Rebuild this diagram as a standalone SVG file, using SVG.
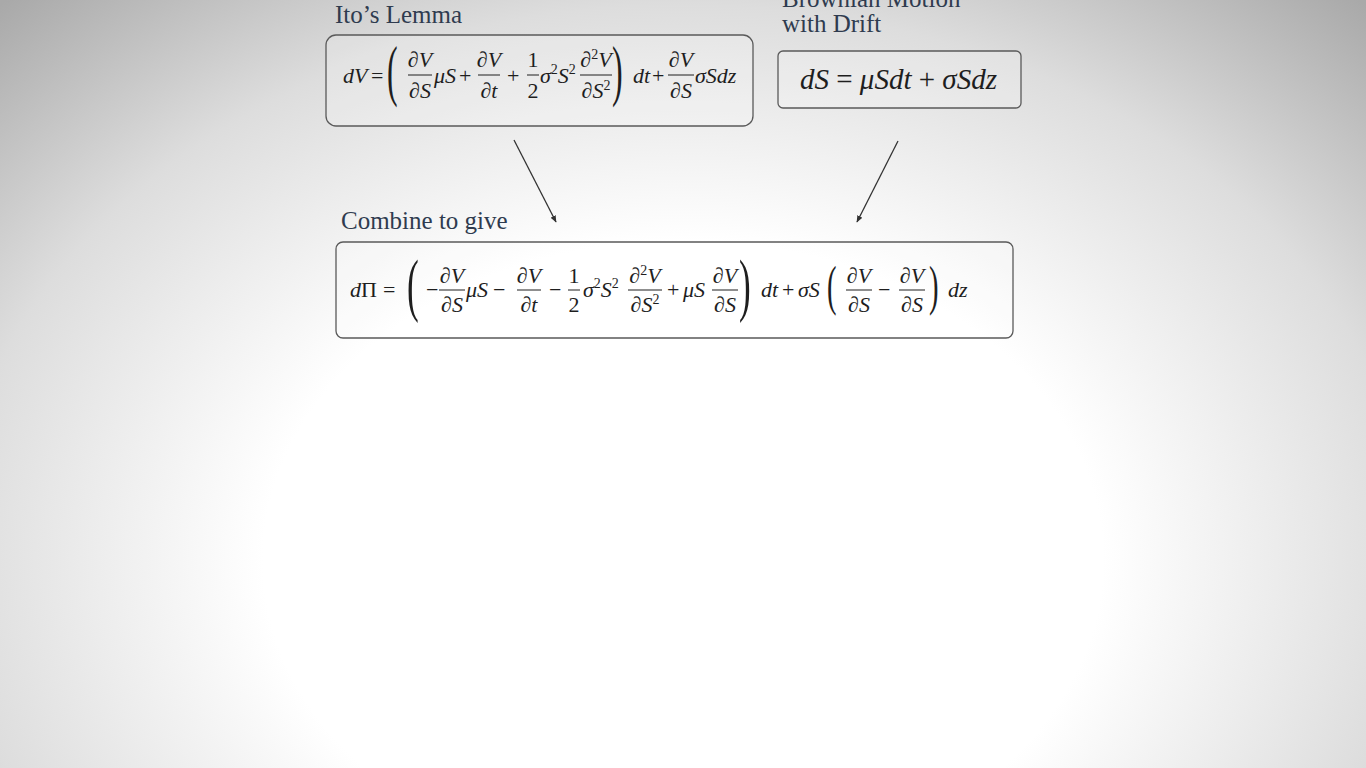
<svg xmlns="http://www.w3.org/2000/svg" width="1366" height="768" viewBox="0 0 1366 768">
<defs>
<radialGradient id="bg" gradientUnits="userSpaceOnUse" cx="683" cy="560" r="1000" gradientTransform="translate(683 560) scale(1 0.76) translate(-683 -560)">
<stop offset="0" stop-color="#ffffff"/>
<stop offset="0.42" stop-color="#ffffff"/>
<stop offset="0.73" stop-color="#dddddd"/>
<stop offset="1" stop-color="#a9a9a9"/>
</radialGradient>
<marker id="ah" viewBox="0 0 10 10" refX="9" refY="5" markerWidth="7" markerHeight="7" markerUnits="userSpaceOnUse" orient="auto">
<path d="M0,1 L10,5 L0,9 z" fill="#333"/>
</marker>
<style>
.title{font-family:"Liberation Serif","Times New Roman",serif;font-size:25px;fill:#2f3b4f;}
.box{fill:#ffffff;fill-opacity:0.2;stroke:#5a5a5a;stroke-width:1.3;}
.m{font-family:"Liberation Serif","Times New Roman",serif;font-style:italic;fill:#1e1e1e;}
.n{font-style:normal;}
.e1{font-size:22px;}
.e3{font-size:22px;}
.c{text-anchor:middle;}
.bar{stroke:#1e1e1e;stroke-width:1;}
.conn{stroke:#333;stroke-width:1.3;fill:none;}
</style>
</defs>
<rect width="1366" height="768" fill="url(#bg)"/>

<g id="ito-lemma">
<text class="title" x="335" y="23">Ito’s Lemma</text>
<rect class="box" x="326" y="35" width="427" height="91" rx="10"/>
<g class="m e1">
<text x="343" y="83">dV</text>
<text class="n" x="371" y="83">=</text>
<text class="n" transform="translate(387 93) scale(1.45 3.1)" font-size="22">(</text>
<text class="c" x="420" y="67">∂V</text><line class="bar" x1="408" y1="75" x2="432" y2="75"/><text class="c" x="420" y="98">∂S</text>
<text x="434" y="83">μS</text>
<text class="n" x="459" y="83">+</text>
<text class="c" x="489" y="67">∂V</text><line class="bar" x1="478" y1="75" x2="500" y2="75"/><text class="c" x="489" y="98">∂t</text>
<text class="n" x="507" y="83">+</text>
<text class="n c" x="533" y="67">1</text><line class="bar" x1="527" y1="75" x2="539" y2="75"/><text class="n c" x="533" y="98">2</text>
<text x="540" y="83">σ<tspan class="n" font-size="14" dy="-9">2</tspan><tspan dy="9">S</tspan><tspan class="n" font-size="14" dy="-9">2</tspan></text>
<text class="c" x="596" y="67">∂<tspan class="n" font-size="14" dy="-8">2</tspan><tspan dy="8">V</tspan></text><line class="bar" x1="580" y1="75" x2="612" y2="75"/><text class="c" x="596" y="98">∂S<tspan class="n" font-size="14" dy="-8">2</tspan></text>
<text class="n" transform="translate(612 93) scale(1.45 3.1)" font-size="22">)</text>
<text x="633" y="83">dt</text>
<text class="n" x="652" y="83">+</text>
<text class="c" x="681" y="67">∂V</text><line class="bar" x1="668" y1="75" x2="694" y2="75"/><text class="c" x="681" y="98">∂S</text>
<text x="695" y="83">σSdz</text>
</g>
</g>

<g id="brownian-motion">
<text class="title" x="782" y="7">Brownian Motion</text>
<text class="title" x="782" y="32">with Drift</text>
<rect class="box" x="778" y="51" width="243" height="57" rx="5"/>
<text class="m" x="800" y="89" font-size="29">dS <tspan class="n">=</tspan> μSdt <tspan class="n">+</tspan> σSdz</text>
</g>

<g id="connectors">
<line class="conn" x1="514" y1="140" x2="556" y2="222" marker-end="url(#ah)"/>
<line class="conn" x1="898" y1="141" x2="857" y2="222" marker-end="url(#ah)"/>
</g>

<g id="combine">
<text class="title" x="341" y="229">Combine to give</text>
<rect class="box" x="336" y="242" width="677" height="96" rx="7"/>
<g class="m e3">
<text x="350" y="297">d<tspan class="n">Π</tspan></text>
<text class="n" x="383" y="297">=</text>
<text class="n" transform="translate(407 308) scale(1.6 3.2)" font-size="22">(</text>
<text class="n" x="426" y="297">−</text>
<text class="c" x="452" y="283">∂V</text><line class="bar" x1="439" y1="290" x2="465" y2="290"/><text class="c" x="452" y="312">∂S</text>
<text x="466" y="297">μS</text>
<text class="n" x="493" y="297">−</text>
<text class="c" x="529" y="283">∂V</text><line class="bar" x1="517" y1="290" x2="541" y2="290"/><text class="c" x="529" y="312">∂t</text>
<text class="n" x="549" y="297">−</text>
<text class="n c" x="574" y="283">1</text><line class="bar" x1="568" y1="290" x2="580" y2="290"/><text class="n c" x="574" y="312">2</text>
<text x="583" y="297">σ<tspan class="n" font-size="14" dy="-9">2</tspan><tspan dy="9">S</tspan><tspan class="n" font-size="14" dy="-9">2</tspan></text>
<text class="c" x="645" y="283">∂<tspan class="n" font-size="14" dy="-8">2</tspan><tspan dy="8">V</tspan></text><line class="bar" x1="628" y1="290" x2="662" y2="290"/><text class="c" x="645" y="312">∂S<tspan class="n" font-size="14" dy="-8">2</tspan></text>
<text class="n" x="667" y="297">+</text>
<text x="683" y="297">μS</text>
<text class="c" x="725" y="283">∂V</text><line class="bar" x1="712" y1="290" x2="738" y2="290"/><text class="c" x="725" y="312">∂S</text>
<text class="n" transform="translate(739 308) scale(1.6 3.2)" font-size="22">)</text>
<text x="761" y="297">dt</text>
<text class="n" x="782" y="297">+</text>
<text x="798" y="297">σS</text>
<text class="n" transform="translate(827 304) scale(1.3 2.5)" font-size="22">(</text>
<text class="c" x="859" y="283">∂V</text><line class="bar" x1="846" y1="290" x2="872" y2="290"/><text class="c" x="859" y="312">∂S</text>
<text class="n" x="878" y="297">−</text>
<text class="c" x="912" y="283">∂V</text><line class="bar" x1="899" y1="290" x2="925" y2="290"/><text class="c" x="912" y="312">∂S</text>
<text class="n" transform="translate(929 304) scale(1.3 2.5)" font-size="22">)</text>
<text x="948" y="297">dz</text>
</g>
</g>
</svg>
